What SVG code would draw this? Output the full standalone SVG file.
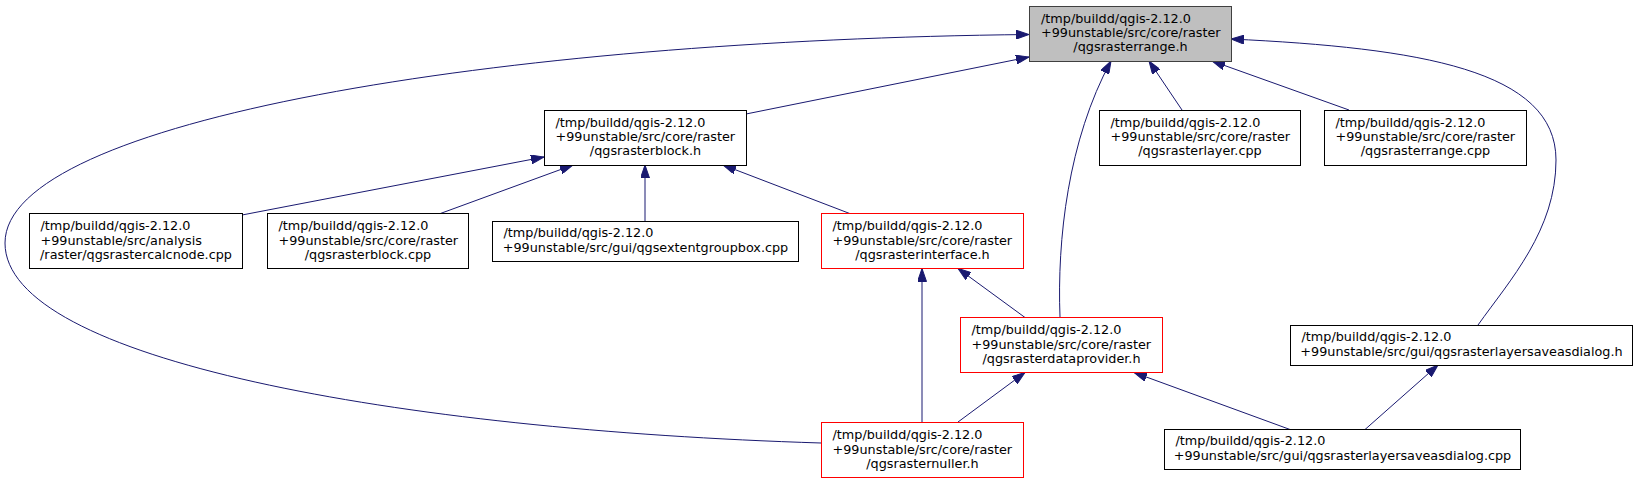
<svg xmlns="http://www.w3.org/2000/svg" width="1637" height="483" viewBox="0 0 1637 483">
<defs>
<style>
.box{fill:#ffffff;stroke:#000000;stroke-width:1}
.red{fill:#ffffff;stroke:#ff0000;stroke-width:1}
.top{fill:#bfbfbf;stroke:#404040;stroke-width:1}
text{font-family:"DejaVu Sans","Liberation Sans",sans-serif;font-size:12.8px;fill:#000000}
.c{text-anchor:middle}
.e{fill:none;stroke:#191970;stroke-width:1;marker-end:url(#arr)}
</style>
<marker id="arr" markerUnits="userSpaceOnUse" viewBox="0 0 13 9" markerWidth="13" markerHeight="9" refX="13" refY="4.5" orient="auto">
<path d="M0,0 L13,4.5 L0,9 Z" fill="#191970" stroke="#191970" stroke-width="1"/>
</marker>
</defs>
<rect width="1637" height="483" fill="#ffffff"/>
<g id="connectors">
<path class="e" d="M746,114 L1029,57"/>
<path class="e" d="M821,443 C400,430 5,360 5,243 C5,120 500,40 1029,34.5"/>
<path class="e" d="M1060,317 C1057,240 1068,140 1111,61"/>
<path class="e" d="M1182,110 L1149,61"/>
<path class="e" d="M1349,110 L1212,61"/>
<path class="e" d="M1478,325 C1510,280 1556,230 1556,160 C1556,70 1420,48 1231,39"/>
<path class="e" d="M242,215 L544,157"/>
<path class="e" d="M439,214 L573,165"/>
<path class="e" d="M645,221 L645,165"/>
<path class="e" d="M851,214 L723,165"/>
<path class="e" d="M922,422 L922,268.5"/>
<path class="e" d="M1025,317.5 L958,268.5"/>
<path class="e" d="M958,422 L1025,372.5"/>
<path class="e" d="M1290,429.5 L1134,372.5"/>
<path class="e" d="M1365,429.5 L1438,365"/>
</g>
<g id="n_range_h">
<rect class="top" x="1029.5" y="6.5" width="202" height="55"/>
<text x="1041" y="22.5">/tmp/buildd/qgis-2.12.0</text>
<text x="1041" y="37">+99unstable/src/core/raster</text>
<text class="c" x="1130.5" y="51.3">/qgsrasterrange.h</text>
</g>
<g id="n_block_h">
<rect class="box" x="544.5" y="110.5" width="202" height="55"/>
<text x="555.5" y="126.5">/tmp/buildd/qgis-2.12.0</text>
<text x="555.5" y="141">+99unstable/src/core/raster</text>
<text class="c" x="645.5" y="155.3">/qgsrasterblock.h</text>
</g>
<g id="n_layer_cpp">
<rect class="box" x="1099.5" y="110.5" width="201" height="55"/>
<text x="1110.5" y="126.5">/tmp/buildd/qgis-2.12.0</text>
<text x="1110.5" y="141">+99unstable/src/core/raster</text>
<text class="c" x="1200" y="155.3">/qgsrasterlayer.cpp</text>
</g>
<g id="n_range_cpp">
<rect class="box" x="1324.5" y="110.5" width="202" height="55"/>
<text x="1335.5" y="126.5">/tmp/buildd/qgis-2.12.0</text>
<text x="1335.5" y="141">+99unstable/src/core/raster</text>
<text class="c" x="1425.5" y="155.3">/qgsrasterrange.cpp</text>
</g>
<g id="n_calcnode">
<rect class="box" x="29.5" y="213.5" width="213" height="55"/>
<text x="40.5" y="230">/tmp/buildd/qgis-2.12.0</text>
<text x="40.5" y="244.5">+99unstable/src/analysis</text>
<text class="c" x="136" y="258.8">/raster/qgsrastercalcnode.cpp</text>
</g>
<g id="n_block_cpp">
<rect class="box" x="267.5" y="213.5" width="201" height="55"/>
<text x="278.5" y="230">/tmp/buildd/qgis-2.12.0</text>
<text x="278.5" y="244.5">+99unstable/src/core/raster</text>
<text class="c" x="368" y="258.8">/qgsrasterblock.cpp</text>
</g>
<g id="n_extent">
<rect class="box" x="492.5" y="221.5" width="306" height="40"/>
<text x="503.5" y="237.2">/tmp/buildd/qgis-2.12.0</text>
<text class="c" x="645.5" y="251.5">+99unstable/src/gui/qgsextentgroupbox.cpp</text>
</g>
<g id="n_interface">
<rect class="red" x="821.5" y="213.5" width="202" height="55"/>
<text x="832.5" y="230">/tmp/buildd/qgis-2.12.0</text>
<text x="832.5" y="244.5">+99unstable/src/core/raster</text>
<text class="c" x="922.5" y="258.8">/qgsrasterinterface.h</text>
</g>
<g id="n_dataprovider">
<rect class="red" x="960.5" y="317.5" width="202" height="55"/>
<text x="971.5" y="334">/tmp/buildd/qgis-2.12.0</text>
<text x="971.5" y="348.5">+99unstable/src/core/raster</text>
<text class="c" x="1061.5" y="362.8">/qgsrasterdataprovider.h</text>
</g>
<g id="n_saveas_h">
<rect class="box" x="1290.5" y="325.5" width="342" height="40"/>
<text x="1301.5" y="341.2">/tmp/buildd/qgis-2.12.0</text>
<text class="c" x="1461.5" y="355.5">+99unstable/src/gui/qgsrasterlayersaveasdialog.h</text>
</g>
<g id="n_nuller">
<rect class="red" x="821.5" y="422.5" width="202" height="55"/>
<text x="832.5" y="439">/tmp/buildd/qgis-2.12.0</text>
<text x="832.5" y="453.5">+99unstable/src/core/raster</text>
<text class="c" x="922.5" y="467.8">/qgsrasternuller.h</text>
</g>
<g id="n_saveas_cpp">
<rect class="box" x="1164.5" y="429.5" width="356" height="40"/>
<text x="1175.5" y="445.2">/tmp/buildd/qgis-2.12.0</text>
<text class="c" x="1342.5" y="459.5">+99unstable/src/gui/qgsrasterlayersaveasdialog.cpp</text>
</g>
</svg>
